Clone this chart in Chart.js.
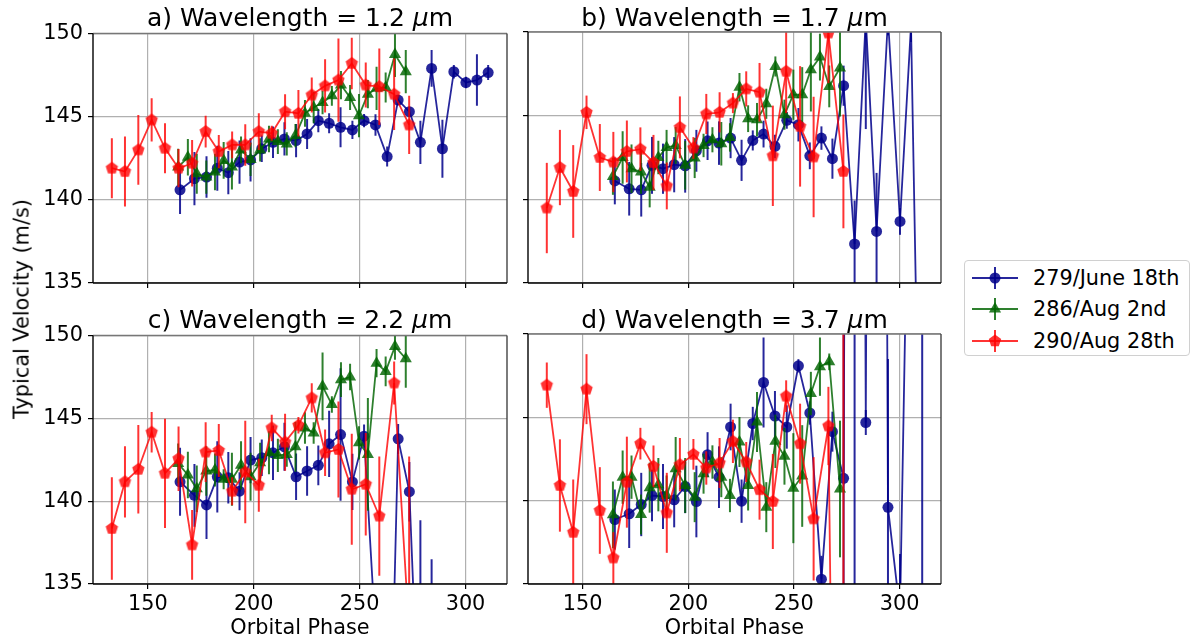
<!DOCTYPE html>
<html>
<head>
<meta charset="utf-8">
<script src="https://cdn.jsdelivr.net/npm/chart.js@4.4.1/dist/chart.umd.min.js"></script>
<style>
  body { margin: 0; background: #fff; font-family: "DejaVu Sans", sans-serif; color: #000; }
  #page { position: relative; width: 1195px; height: 640px; overflow: hidden; }
  #page canvas { position: absolute; }
  .txt { position: absolute; white-space: nowrap; line-height: 1; }
  .ptitle { font-size: 25px; transform: translateX(-50%); z-index: 5; }
  .xlab { font-size: 20.8px; transform: translateX(-50%); }
  .ylab { font-size: 20.8px; transform: translate(-50%, -50%) rotate(-90deg); }
  #legend { position: absolute; left: 964px; top: 260px; width: 226px; height: 96px;
            border: 1px solid #d0d0d0; border-radius: 4px; box-sizing: border-box; background: #fff; }
  .lrow { position: absolute; left: 0; height: 24px; }
  .lrow svg { position: absolute; left: 7px; top: 0; }
  .lrow span { position: absolute; left: 68px; top: 2px; font-size: 20.8px; line-height: 1; white-space: nowrap; }
</style>
</head>
<body>
<div id="page"></div>
<script>
// ---- data ----
const seriesNames = ['279/June 18th', '286/Aug 2nd', '290/Aug 28th'];
const panelTitles = ['a) Wavelength = 1.2', 'b) Wavelength = 1.7', 'c) Wavelength = 2.2', 'd) Wavelength = 3.7'];
const xTicks = [150, 200, 250, 300];
const yTicks = [135, 140, 145, 150];

const bluePhase = [165.2, 172.0, 177.7, 182.8, 188.0, 193.3, 198.5, 203.8, 209.1, 214.5, 220.0, 225.2, 230.5, 235.6,
                   241.0, 246.6, 252.1, 257.5, 263.0, 268.2, 273.5, 278.7, 284.0, 289.1, 294.5, 300.2, 305.4, 310.7];
const greenPhase = [164.3, 168.9, 173.1, 177.6, 181.7, 185.8, 189.7, 194.0, 198.5, 203.0, 207.2, 211.4, 215.6,
                    219.7, 224.2, 228.3, 232.5, 236.9, 241.2, 245.5, 249.7, 253.9, 258.0, 262.3, 266.7, 271.8];
const redPhase = [133.0, 139.2, 145.5, 151.8, 158.1, 164.5, 170.9, 177.3, 183.5, 189.8, 196.0, 202.4, 208.5, 214.8,
                  221.1, 227.4, 233.7, 240.0, 246.3, 252.9, 259.3, 266.3, 273.4];

// panel a) 1.2 um
const blueA = [140.6, 141.27, 141.37, 141.9, 141.63, 142.27, 142.4, 143.07, 143.46, 143.66, 143.56, 143.96, 144.76, 144.6,
               144.36, 144.2, 144.76, 144.5, 142.6, 146.0, 145.3, 143.46, 147.9, 143.07, 147.7, 147.05, 147.2, 147.65];
const blueAErr = [1.45, 1.6, 1.25, 1.35, 1.3, 1.3, 1.3, 0.8, 0.95, 1.0, 1.0, 0.9, 0.7, 0.6,
                  1.2, 0.55, 0.4, 0.65, 0.6, 0.3, 0.3, 1.3, 1.1, 1.75, 0.4, 0.35, 1.55, 0.45];
const greenA = [141.97, 142.56, 141.57, 141.37, 141.67, 142.37, 141.97, 143.0, 142.43, 143.0, 143.66, 143.5, 143.36,
                143.86, 145.2, 145.55, 145.85, 146.25, 146.9, 146.15, 145.06, 146.35, 146.7, 146.75, 148.74, 147.7];
const greenAErr = [1.1, 1.1, 1.2, 1.0, 1.1, 1.1, 1.35, 0.8, 1.0, 0.7, 0.8, 0.75, 0.7,
                   0.7, 0.8, 0.95, 0.7, 0.6, 0.85, 0.75, 1.3, 0.85, 1.3, 0.9, 1.35, 1.3];
const redA = [141.9, 141.7, 143.0, 144.8, 143.1, 141.9, 142.2, 144.1, 142.9, 143.3, 143.3, 144.1, 144.0, 145.3,
              145.2, 146.3, 146.85, 147.2, 148.2, 146.9, 146.8, 146.35, 144.5];
const redAErr = [1.8, 2.1, 2.1, 1.3, 1.5, 1.15, 1.4, 0.95, 1.0, 0.8, 1.25, 1.1, 0.45, 1.05,
                 1.4, 1.05, 1.6, 2.5, 1.55, 1.35, 2.3, 2.15, 1.75];

// panel b) 1.7 um
const blueB = [141.1, 140.63, 140.57, 142.03, 141.83, 142.07, 142.0, 142.9, 143.5, 143.36, 143.66, 142.33, 143.52, 143.9,
               143.16, 144.72, 144.46, 142.6, 143.66, 142.43, 146.79, 137.33, 150.8, 138.08, 150.8, 138.68, 150.4, 114.0];
const blueBErr = [1.4, 1.6, 1.6, 1.7, 1.5, 1.65, 1.6, 1.25, 1.15, 1.3, 1.2, 1.23, 0.6, 0.8,
                  0.7, 0.5, 1.0, 0.8, 0.7, 1.2, 1.2, 2.6, 6.6, 3.5, 1.0, 0.8, 1.0, 1.0];
const greenB = [141.37, 142.5, 141.83, 141.63, 140.72, 142.5, 143.1, 143.22, 142.03, 142.47, 143.22, 143.56, 143.32,
                143.7, 146.7, 144.82, 144.76, 145.71, 147.94, 145.06, 146.25, 146.25, 147.75, 148.5, 146.75, 147.85];
const greenBErr = [1.1, 1.57, 1.45, 1.3, 1.2, 1.0, 1.05, 1.1, 1.45, 1.2, 0.7, 0.75, 1.3,
                   0.85, 0.85, 0.8, 1.0, 0.9, 0.6, 0.9, 1.5, 1.65, 2.5, 1.4, 1.25, 2.9];
const redB = [139.48, 141.9, 140.47, 145.2, 142.5, 142.23, 142.86, 143.0, 142.2, 140.8, 144.3, 143.07, 145.1, 145.2,
              145.75, 146.6, 146.4, 142.6, 147.65, 144.36, 142.53, 149.94, 141.67];
const redBErr = [2.7, 2.25, 2.77, 1.0, 2.0, 1.8, 1.85, 1.3, 1.65, 1.4, 1.85, 0.65, 1.2, 1.2,
                 0.6, 1.05, 1.75, 3.0, 2.5, 3.6, 3.6, 3.0, 3.4];

// panel c) 2.2 um
const blueC = [141.17, 140.35, 139.77, 141.47, 141.41, 140.6, 142.48, 142.62, 142.92, 143.28, 141.47, 141.82, 142.16, 143.46,
               144.02, 141.16, 143.92, 132.0, 117.0, 143.76, 140.57, 124.0, 125.0, null, null, null, null, null];
const blueCErr = [2.05, 1.9, 2.05, 2.15, 1.55, 1.15, 1.4, 1.1, 1.65, 1.45, 1.4, 1.5, 1.2, 2.0,
                  4.0, 1.7, 0.7, 1.0, 1.0, 0.9, 1.8, 14.85, 11.5, null, null, null, null, null];
const greenC = [142.28, 141.58, 140.75, 141.82, 141.88, 141.32, 141.32, 142.16, 141.47, 142.32, 142.92, 142.76, 142.82,
                143.28, 144.42, 144.12, 146.93, 145.83, 147.33, 147.49, 143.52, 142.82, 148.33, 147.83, 149.34, 148.6];
const greenCErr = [1.2, 1.4, 1.4, 1.5, 1.0, 0.6, 1.6, 1.45, 1.45, 1.2, 1.3, 1.0, 0.75,
                   1.5, 0.95, 0.65, 2.05, 0.5, 1.05, 0.8, 1.0, 3.4, 0.85, 0.9, 0.8, 1.75];
const redC = [138.35, 141.17, 141.92, 144.16, 141.68, 142.56, 137.36, 142.96, 143.06, 140.6, 141.76, 140.96, 144.42, 143.56,
              144.58, 146.23, 142.92, 143.12, 140.72, 141.02, 139.1, 147.13, 132.1];
const redCErr = [3.1, 2.15, 2.67, 1.22, 3.3, 1.95, 2.1, 1.8, 1.6, 0.85, 3.1, 1.6, 0.8, 1.72,
                 0.5, 0.88, 1.4, 2.9, 3.35, 3.1, 3.6, 1.3, 10.6];

// panel d) 3.7 um
const blueD = [138.87, 139.21, 139.77, 140.31, 140.25, 140.05, 140.85, 139.95, 142.76, 141.41, 144.42, 139.97, 144.63, 147.09,
               145.08, 144.42, 148.09, 145.26, 135.29, 144.14, 141.34, 300.0, 144.69, 300.0, 139.6, 133.3, 170.0, 165.0];
const blueDErr = [1.8, 2.05, 1.9, 1.55, 1.95, 1.65, 1.6, 2.15, 1.35, 1.85, 1.4, 1.3, 1.0, 2.7,
                  1.5, 1.3, 0.4, 0.7, 1.4, 1.2, 9.0, 200.0, 0.75, 1.0, 8.9, 3.5, 1.0, 30.0];
const greenD = [139.15, 141.41, 141.41, 139.17, 140.78, 140.96, 140.31, 141.92, 140.91, 140.21, 141.62, 142.32, 141.41,
                140.31, 143.52, 140.91, 144.72, 139.61, 143.56, 142.66, 140.75, 141.48, 146.43, 148.04, 148.33, 140.7];
const greenDErr = [2.0, 1.6, 1.3, 1.2, 1.5, 1.6, 1.2, 1.9, 1.65, 1.5, 1.2, 1.0, 1.2,
                   1.0, 1.5, 1.5, 1.8, 1.5, 1.6, 1.7, 3.3, 3.05, 1.3, 1.75, 0.5, 4.1];
const redD = [146.93, 140.91, 138.1, 146.69, 139.41, 136.56, 141.11, 143.42, 142.06, 139.27, 142.16, 142.78, 141.96, 142.26,
              143.56, 142.32, 140.66, 139.95, 146.27, 143.42, 138.91, 144.48, 70.0];
const redDErr = [1.36, 2.77, 3.17, 2.1, 2.6, 1.55, 2.73, 0.95, 1.25, 2.4, 1.6, 0.92, 1.0, 1.5,
                 1.3, 1.2, 1.8, 2.85, 0.95, 2.4, 3.7, 2.35, 85.0];

// ---- styling / layout ----
const BLUE = 'rgba(0,0,139,0.85)';
const GREEN = 'rgba(0,100,0,0.82)';
const RED = 'rgba(255,0,0,0.8)';
const X_MIN = 124.1, X_MAX = 319.6;
const FONT = '"DejaVu Sans", sans-serif';
const PAD_T = 16, PAD_R = 12, AX_B = 50;

function pentagon(color, r) {
  const c = document.createElement('canvas');
  const s = Math.ceil(r * 2 + 2);
  c.width = c.height = s;
  const g = c.getContext('2d');
  g.fillStyle = color;
  g.beginPath();
  for (let k = 0; k < 5; k++) {
    const a = -Math.PI / 2 + k * 2 * Math.PI / 5;
    const px = s / 2 + r * Math.cos(a), py = s / 2 + r * Math.sin(a);
    if (k) g.lineTo(px, py); else g.moveTo(px, py);
  }
  g.closePath();
  g.fill();
  return c;
}

const looks = [
  { color: BLUE, pointStyle: 'circle', radius: 5.5, phase: bluePhase, order: 2 },
  { color: GREEN, pointStyle: 'triangle', radius: 7, phase: greenPhase, order: 1 },
  { color: RED, pointStyle: pentagon(RED, 6.5), radius: 6.5, phase: redPhase, order: 0 }
];

// vertical error bars, drawn just before each dataset so layering follows the series
const errorBars = {
  id: 'errorBars',
  beforeDatasetDraw(chart, args) {
    const ds = chart.data.datasets[args.index];
    if (!ds.errors) return;
    const { ctx, chartArea: a, scales: { x, y } } = chart;
    ctx.save();
    ctx.beginPath();
    ctx.rect(a.left, a.top, a.right - a.left, a.bottom - a.top);
    ctx.clip();
    ctx.strokeStyle = ds.borderColor;
    ctx.lineWidth = 2;
    ds.data.forEach((p, i) => {
      const e = ds.errors[i];
      const px = x.getPixelForValue(p.x);
      ctx.beginPath();
      ctx.moveTo(px, y.getPixelForValue(p.y - e));
      ctx.lineTo(px, y.getPixelForValue(p.y + e));
      ctx.stroke();
    });
    ctx.restore();
  }
};

// axes frame (spines)
const frame = {
  id: 'frame',
  afterDatasetsDraw(chart) {
    const { ctx, chartArea: a } = chart;
    ctx.save();
    ctx.lineWidth = 1.4;
    const seg = (x1, y1, x2, y2, c) => {
      ctx.strokeStyle = c; ctx.beginPath(); ctx.moveTo(x1, y1); ctx.lineTo(x2, y2); ctx.stroke();
    };
    seg(a.left, a.top, a.right, a.top, '#777');
    seg(a.right, a.top, a.right, a.bottom, '#444');
    seg(a.left, a.bottom, a.right, a.bottom, '#000');
    seg(a.left, a.top, a.left, a.bottom, '#000');
    ctx.restore();
  }
};

const panels = [
  { values: [blueA, greenA, redA], errs: [blueAErr, greenAErr, redAErr], l: 93, t: 32, w: 414, h: 251, showY: true, showX: false },
  { values: [blueB, greenB, redB], errs: [blueBErr, greenBErr, redBErr], l: 528, t: 32, w: 413, h: 251, showY: false, showX: false },
  { values: [blueC, greenC, redC], errs: [blueCErr, greenCErr, redCErr], l: 93, t: 334, w: 414, h: 250, showY: true, showX: true },
  { values: [blueD, greenD, redD], errs: [blueDErr, greenDErr, redDErr], l: 528, t: 334, w: 413, h: 250, showY: false, showX: true }
];

const page = document.getElementById('page');

panels.forEach((p, pi) => {
  const yW = p.showY ? p.l : 20;
  const canvas = document.createElement('canvas');
  canvas.width = yW + p.w + PAD_R;
  canvas.height = PAD_T + p.h + AX_B;
  canvas.style.left = (p.l - yW) + 'px';
  canvas.style.top = (p.t - PAD_T) + 'px';
  page.appendChild(canvas);

  const datasets = looks.map((lk, si) => {
    const pts = [], errs = [];
    lk.phase.forEach((ph, i) => {
      const v = p.values[si][i];
      if (v === null || v === undefined) return;
      pts.push({ x: ph, y: v });
      errs.push(p.errs[si][i]);
    });
    return {
      label: seriesNames[si],
      data: pts,
      errors: errs,
      borderColor: lk.color,
      backgroundColor: lk.color,
      pointBackgroundColor: lk.color,
      pointBorderColor: lk.color,
      pointBorderWidth: 0,
      pointStyle: lk.pointStyle,
      pointRadius: lk.radius,
      borderWidth: 1.8,
      tension: 0,
      clip: 0,
      order: lk.order
    };
  });

  new Chart(canvas, {
    type: 'line',
    data: { datasets },
    options: {
      responsive: false,
      animation: false,
      events: [],
      layout: { padding: { top: PAD_T, right: PAD_R, left: 0, bottom: 0 } },
      plugins: { legend: { display: false }, tooltip: { enabled: false }, title: { display: false } },
      scales: {
        x: {
          type: 'linear', min: X_MIN, max: X_MAX,
          afterBuildTicks: s => { s.ticks = xTicks.map(v => ({ value: v })); },
          afterFit: s => { s.height = AX_B; },
          border: { display: false },
          grid: { color: '#b0b0b0', lineWidth: 1.2, tickLength: 5, tickColor: '#000', tickWidth: 1.2 },
          ticks: { display: p.showX, color: '#000', font: { family: FONT, size: 20.8 }, padding: 3,
                   maxRotation: 0, autoSkip: false }
        },
        y: {
          type: 'linear', min: 135, max: 150,
          afterBuildTicks: s => { s.ticks = yTicks.map(v => ({ value: v })); },
          afterFit: s => { s.width = yW; },
          border: { display: false },
          grid: { color: '#b0b0b0', lineWidth: 1.2, tickLength: 5, tickColor: '#000', tickWidth: 1.2 },
          ticks: { display: p.showY, color: '#000', font: { family: FONT, size: 20.8 }, padding: 5 }
        }
      }
    },
    plugins: [errorBars, frame]
  });

  const title = document.createElement('div');
  title.className = 'txt ptitle';
  title.style.left = (p.l + p.w / 2) + 'px';
  title.style.top = (p.t - 27) + 'px';
  title.innerHTML = panelTitles[pi] + ' <i>μ</i>m';
  page.appendChild(title);

  if (p.showX) {
    const xl = document.createElement('div');
    xl.className = 'txt xlab';
    xl.style.left = (p.l + p.w / 2) + 'px';
    xl.style.top = '617px';
    xl.textContent = 'Orbital Phase';
    page.appendChild(xl);
  }
});

const yl = document.createElement('div');
yl.className = 'txt ylab';
yl.style.left = '22px';
yl.style.top = '309px';
yl.textContent = 'Typical Velocity (m/s)';
page.appendChild(yl);

// legend
const legend = document.createElement('div');
legend.id = 'legend';
page.appendChild(legend);
const markerSvg = [
  c => `<circle cx="23" cy="12" r="5.5" fill="${c}"/>`,
  c => `<polygon points="23,5 29.1,15.5 16.9,15.5" fill="${c}"/>`,
  c => {
    const pts = [];
    for (let k = 0; k < 5; k++) {
      const a = -Math.PI / 2 + k * 2 * Math.PI / 5;
      pts.push((23 + 6.5 * Math.cos(a)).toFixed(2) + ',' + (12 + 6.5 * Math.sin(a)).toFixed(2));
    }
    return `<polygon points="${pts.join(' ')}" fill="${c}"/>`;
  }
];
looks.forEach((lk, si) => {
  const row = document.createElement('div');
  row.className = 'lrow';
  row.style.top = (5 + si * 31.3) + 'px';
  row.style.width = '220px';
  row.innerHTML =
    `<svg width="46" height="24" viewBox="0 0 46 24">` +
    `<line x1="0" y1="12" x2="46" y2="12" stroke="${lk.color}" stroke-width="1.8"/>` +
    `<line x1="23" y1="1" x2="23" y2="23" stroke="${lk.color}" stroke-width="2"/>` +
    markerSvg[si](lk.color) + `</svg><span>${seriesNames[si]}</span>`;
  legend.appendChild(row);
});
</script>
</body>
</html>
